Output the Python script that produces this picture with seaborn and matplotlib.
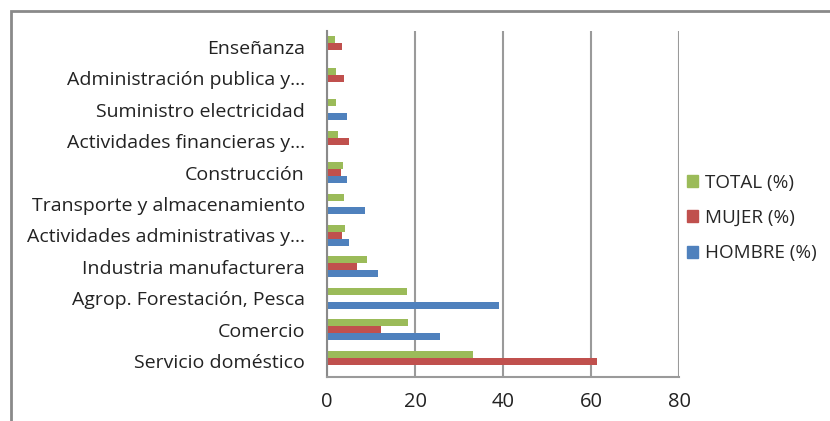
import matplotlib
matplotlib.use("Agg")
import matplotlib.pyplot as plt
import matplotlib.patches as mpatches
import seaborn as sns
import pandas as pd
import numpy as np

categories = [
    "Enseñanza",
    "Administración publica y...",
    "Suministro electricidad",
    "Actividades financieras y...",
    "Construcción",
    "Transporte y almacenamiento",
    "Actividades administrativas y...",
    "Industria manufacturera",
    "Agrop. Forestación, Pesca",
    "Comercio",
    "Servicio doméstico",
]
total = [1.9, 2.1, 2.1, 2.6, 3.6, 3.9, 4.1, 9.0, 18.1, 18.3, 33.1]
mujer = [3.3, 3.9, 0.0, 4.9, 3.1, 0.0, 3.4, 6.9, 0.0, 12.3, 61.4]
hombre = [0.0, 0.0, 4.6, 0.0, 4.6, 8.7, 4.9, 11.5, 39.2, 25.7, 0.0]
series_names = ["TOTAL (%)", "MUJER (%)", "HOMBRE (%)"]
colors = ["#9BBB59", "#C0504D", "#4F81BD"]
x_ticks = [0, 20, 40, 60, 80]

rows = []
for name, vals in zip(series_names, [total, mujer, hombre]):
    for c, v in zip(categories, vals):
        rows.append({"cat": c, "serie": name, "val": v})
df = pd.DataFrame(rows)

sns.set_style("white")
plt.rcParams["font.family"] = ["Open Sans", "DejaVu Sans"]

fig = plt.figure(figsize=(8.30, 4.21), dpi=100)
ax = fig.add_axes([327 / 830, 1 - 377 / 421, (679 - 327) / 830, (377 - 31) / 421])

sns.barplot(data=df, x="val", y="cat", hue="serie", order=categories,
            hue_order=series_names, palette=colors, orient="h",
            width=0.667, dodge=True, saturation=1, errorbar=None,
            linewidth=0, ax=ax)

ax.set_xlim(0, 80)
ax.set_ylim(len(categories) - 0.5, -0.5)
ax.set_xticks(x_ticks)
ax.set_xticklabels([str(t) for t in x_ticks], fontsize=14.5, color="#222222")
ax.xaxis.grid(True, color="#9a9a9a", linewidth=1.5)
ax.set_axisbelow(True)
ax.set_xlabel("")
ax.set_ylabel("")

ax.set_yticks(range(len(categories)))
ax.set_yticklabels(categories, fontsize=14, color="#222222")
ax.set_yticks(np.arange(-0.5, len(categories), 1.0), minor=True)
ax.tick_params(axis="y", which="major", length=0, pad=16)
ax.tick_params(axis="y", which="minor", length=5.5, width=1.2, color="#8a8a8a", direction="out")
ax.tick_params(axis="x", which="major", length=5, width=1.2, color="#9a9a9a", pad=6)

for s in ["top", "right"]:
    ax.spines[s].set_visible(False)
ax.spines["left"].set_color("#8a8a8a")
ax.spines["left"].set_linewidth(1.5)
ax.spines["bottom"].set_color("#9a9a9a")
ax.spines["bottom"].set_linewidth(1.5)

handles = [mpatches.Patch(color=c) for c in colors]
ax.legend(handles, series_names, loc="center left",
          bbox_to_anchor=(679 / 830, 1 - 218 / 421), bbox_transform=fig.transFigure,
          frameon=False, fontsize=13.6, handlelength=0.6, handleheight=0.6,
          handletextpad=0.4, labelspacing=0.92, borderaxespad=0)

fig.patches.append(mpatches.Rectangle((11 / 830, -0.05), 1.1, 1 - 11 / 421 + 0.05,
                                      transform=fig.transFigure, fill=False,
                                      edgecolor="#8a8a8a", linewidth=2, clip_on=False))

fig.savefig("out.png", dpi=100)
